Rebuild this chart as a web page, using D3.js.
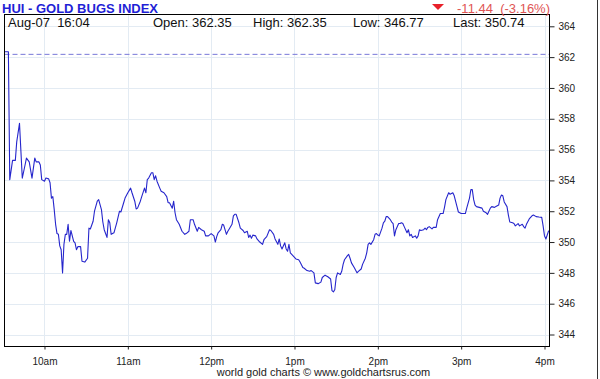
<!DOCTYPE html>
<html>
<head>
<meta charset="utf-8">
<script src="https://cdn.jsdelivr.net/npm/d3@7"></script>
<style>
  html, body { margin: 0; padding: 0; background: #fff; }
  svg { display: block; font-family: "Liberation Sans", Arial, sans-serif; }
</style>
</head>
<body>
<svg id="chart" width="600" height="379"></svg>
<script>
// ---- data ----
const title = "HUI - GOLD BUGS INDEX";
const dateLabel = "Aug-07  16:04";
const openValue = 362.35;
const highValue = 362.35;
const lowValue = 346.77;
const lastValue = 350.74;
const prevClose = 362.18;
const changeText = "-11.44  (-3.16%)";
// minutes after 09:30
const minutes = [0,4,5,7,9,10,12,14,16,17,19,21,23,24,26,27,28,30,31,33,34,35,36,37,38,39,40,41,42,43,44,45,46,47,48,49,51,52,53,54,56,57,59,61,62,63,65,66,68,69,71,72,73,75,76,77,78,80,82,84,85,87,88,90,92,93,95,96,97,99,100,102,103,104,105,107,108,109,110,111,113,114,116,118,119,120,122,123,124,125,127,129,131,132,134,135,137,138,140,141,143,145,146,148,150,152,153,154,155,157,158,159,161,162,163,165,166,167,168,170,171,173,174,176,177,178,179,180,182,183,185,187,188,190,192,193,195,196,198,199,200,201,203,204,205,206,207,209,211,213,214,216,217,219,221,222,224,225,227,229,230,232,233,234,236,237,238,239,240,241,243,244,245,246,248,249,250,251,253,255,256,258,259,261,262,263,264,265,267,268,269,270,271,273,274,275,276,277,279,280,281,282,283,285,286,287,288,289,291,292,293,294,295,297,298,299,300,301,303,304,305,306,307,309,310,312,313,315,317,318,319,321,322,323,324,325,327,328,330,331,333,334,336,337,338,339,340,341,343,345,346,348,349,351,352,354,355,357,358,359,360,361,363,364,365,367,368,369,371,372,374,375,376,377,379,381,382,384,386,388,389,390,391,393];
const prices = [362.35,362.35,354.05,355.3,355.3,356.5,357.7,354.15,355.0,355.45,355.2,354.15,355.45,355.2,355.2,355.0,354.05,353.95,354.15,354.1,353.85,352.85,352.95,352.1,351.15,350.55,350.5,349.75,349.5,348.0,349.85,350.5,350.5,351.15,350.05,350.75,350.05,349.95,349.5,349.7,349.7,348.75,348.7,348.95,350.9,350.85,351.35,352.0,352.65,352.75,352.1,351.3,350.8,350.3,351.45,351.25,350.5,350.6,351.25,352.0,351.95,352.55,352.85,353.2,353.5,353.2,352.65,352.15,352.2,352.65,352.95,353.5,353.2,354.05,354.15,354.5,354.5,354.05,354.3,353.95,353.5,353.3,353.2,352.95,352.55,352.55,352.2,352.65,351.9,351.45,351.15,350.7,350.5,350.55,350.7,351.45,351.45,351.15,350.7,350.95,350.8,350.7,350.4,350.4,350.55,350.4,350.0,350.35,350.6,350.8,351.15,351.1,350.5,350.7,350.85,351.15,351.7,351.8,351.8,351.25,350.9,350.75,350.6,350.7,350.3,350.45,350.25,350.45,350.4,350.2,350.0,349.85,350.15,350.35,350.8,350.75,350.5,350.2,349.85,350.2,349.75,349.55,349.95,349.55,349.4,349.85,349.3,349.1,348.9,348.85,348.7,348.35,348.3,348.15,348.1,348.15,348.0,347.35,347.3,347.4,347.7,347.85,347.8,347.75,347.6,346.85,346.77,346.9,347.7,348.0,347.9,348.1,348.55,348.85,349.1,349.2,348.95,348.65,348.35,348.0,348.1,348.25,348.55,348.95,349.3,349.85,349.95,349.85,350.15,350.5,350.55,350.45,350.4,350.9,351.25,351.35,351.65,351.65,351.45,351.3,351.2,350.4,350.8,351.2,351.2,351.25,351.2,351.0,350.6,350.8,350.4,350.5,350.3,350.4,350.25,350.4,350.8,350.75,350.8,350.9,350.8,350.95,351.0,350.85,350.95,350.95,351.45,351.85,351.85,352.25,352.75,353.2,353.1,353.15,353.2,353.0,352.3,351.95,351.85,351.85,351.85,352.2,352.85,353.4,353.4,352.75,352.4,352.3,352.25,352.2,352.0,351.9,351.8,352.2,352.3,352.25,352.3,352.4,352.85,353.05,353.0,352.6,352.3,351.75,351.3,351.25,351.2,351.05,351.2,351.05,351.15,351.0,350.9,351.15,351.5,351.7,351.75,351.65,351.62,351.6,351.05,350.4,350.2,350.74];
const hourTicks = [30, 90, 150, 210, 270, 330, 390];
const hourLabels = ["10am", "11am", "12pm", "1pm", "2pm", "3pm", "4pm"];
const priceTicks = [344, 346, 348, 350, 352, 354, 356, 358, 360, 362, 364];

// ---- layout ----
const svg = d3.select("#chart");
const frame = { left: 4.5, top: 14.5, right: 549.5, bottom: 346.5 };
const x = d3.scaleLinear().domain([0, 390]).range([2.83, 544.5]);
const y = d3.scaleLinear().domain([344, 364]).range([334.5, 26.3]);

svg.append("defs").append("clipPath").attr("id", "clip")
  .append("rect").attr("x", frame.left).attr("y", frame.top)
  .attr("width", frame.right - frame.left).attr("height", frame.bottom - frame.top);

// grid
const grid = svg.append("g");
grid.selectAll("line.h").data(priceTicks).join("line")
  .attr("x1", frame.left).attr("x2", frame.right)
  .attr("y1", d => Math.round(y(d)) + 0.5).attr("y2", d => Math.round(y(d)) + 0.5)
  .attr("stroke", "#e3ebf3").attr("stroke-width", 1);
grid.selectAll("line.v").data(hourTicks).join("line")
  .attr("y1", frame.top).attr("y2", frame.bottom)
  .attr("x1", d => Math.round(x(d)) + 0.5).attr("x2", d => Math.round(x(d)) + 0.5)
  .attr("stroke", "#e3ebf3").attr("stroke-width", 1);

// previous close reference line
svg.append("line")
  .attr("x1", frame.left).attr("x2", frame.right)
  .attr("y1", y(prevClose)).attr("y2", y(prevClose))
  .attr("stroke", "#7878d8").attr("stroke-width", 1).attr("stroke-dasharray", "5,3");

// price line
const data = minutes.map((m, i) => ({ m, v: prices[i] }));
svg.append("path").datum(data)
  .attr("clip-path", "url(#clip)")
  .attr("fill", "none").attr("stroke", "#2626cc").attr("stroke-width", 1.1)
  .attr("stroke-linejoin", "round")
  .attr("d", d3.line().x(d => x(d.m)).y(d => y(d.v)));

// frame
svg.append("rect")
  .attr("x", frame.left).attr("y", frame.top)
  .attr("width", frame.right - frame.left).attr("height", frame.bottom - frame.top)
  .attr("fill", "none").attr("stroke", "#000").attr("stroke-width", 1);

// right axis
const yAxis = d3.axisRight(y).tickValues(priceTicks).tickSize(5).tickPadding(4).tickFormat(d3.format("d"));
const gy = svg.append("g").attr("transform", `translate(${frame.right},0)`).call(yAxis);
gy.select(".domain").remove();
gy.selectAll("text").attr("font-size", 10).attr("fill", "#222").attr("font-family", "Liberation Sans, Arial, sans-serif");
gy.selectAll("line").attr("stroke", "#222");

// bottom axis
const xAxis = d3.axisBottom(x).tickValues(hourTicks).tickSize(3).tickPadding(8)
  .tickFormat((d, i) => hourLabels[i]);
const gx = svg.append("g").attr("transform", `translate(0,${frame.bottom})`).call(xAxis);
gx.select(".domain").remove();
gx.selectAll("text").attr("font-size", 10).attr("fill", "#222").attr("font-family", "Liberation Sans, Arial, sans-serif");
gx.selectAll("line").attr("stroke", "#222");

// header
svg.append("text").attr("x", 2).attr("y", 12.5)
  .attr("font-size", 13).attr("font-weight", "bold").attr("fill", "#1f1fd6")
  .text(title);
const triX = 438;
svg.append("path")
  .attr("d", `M${triX - 6},4 L${triX + 6},4 L${triX},10 Z`)
  .attr("fill", "#e8202a");
svg.append("text").attr("x", 550).attr("y", 12.5).attr("text-anchor", "end")
  .attr("font-size", 13).attr("fill", "#e05555").style("white-space", "pre")
  .text(changeText);

const info = [
  { x: 8, t: dateLabel },
  { x: 153, t: "Open: " + openValue.toFixed(2) },
  { x: 253, t: "High: " + highValue.toFixed(2) },
  { x: 353, t: "Low: " + lowValue.toFixed(2) },
  { x: 453, t: "Last: " + lastValue.toFixed(2) }
];
svg.selectAll("text.info").data(info).join("text")
  .attr("class", "info")
  .attr("x", d => d.x).attr("y", 27)
  .attr("font-size", 13).attr("fill", "#111")
  .style("white-space", "pre")
  .text(d => d.t);

// footer
svg.append("text").attr("x", 323.5).attr("y", 376).attr("text-anchor", "middle")
  .attr("font-size", 11).attr("fill", "#222")
  .text("world gold charts \u00A9 www.goldchartsrus.com");

// outer right edge
svg.append("line").attr("x1", 597.5).attr("x2", 597.5).attr("y1", 0).attr("y2", 379)
  .attr("stroke", "#333").attr("stroke-width", 1);
</script>
</body>
</html>
